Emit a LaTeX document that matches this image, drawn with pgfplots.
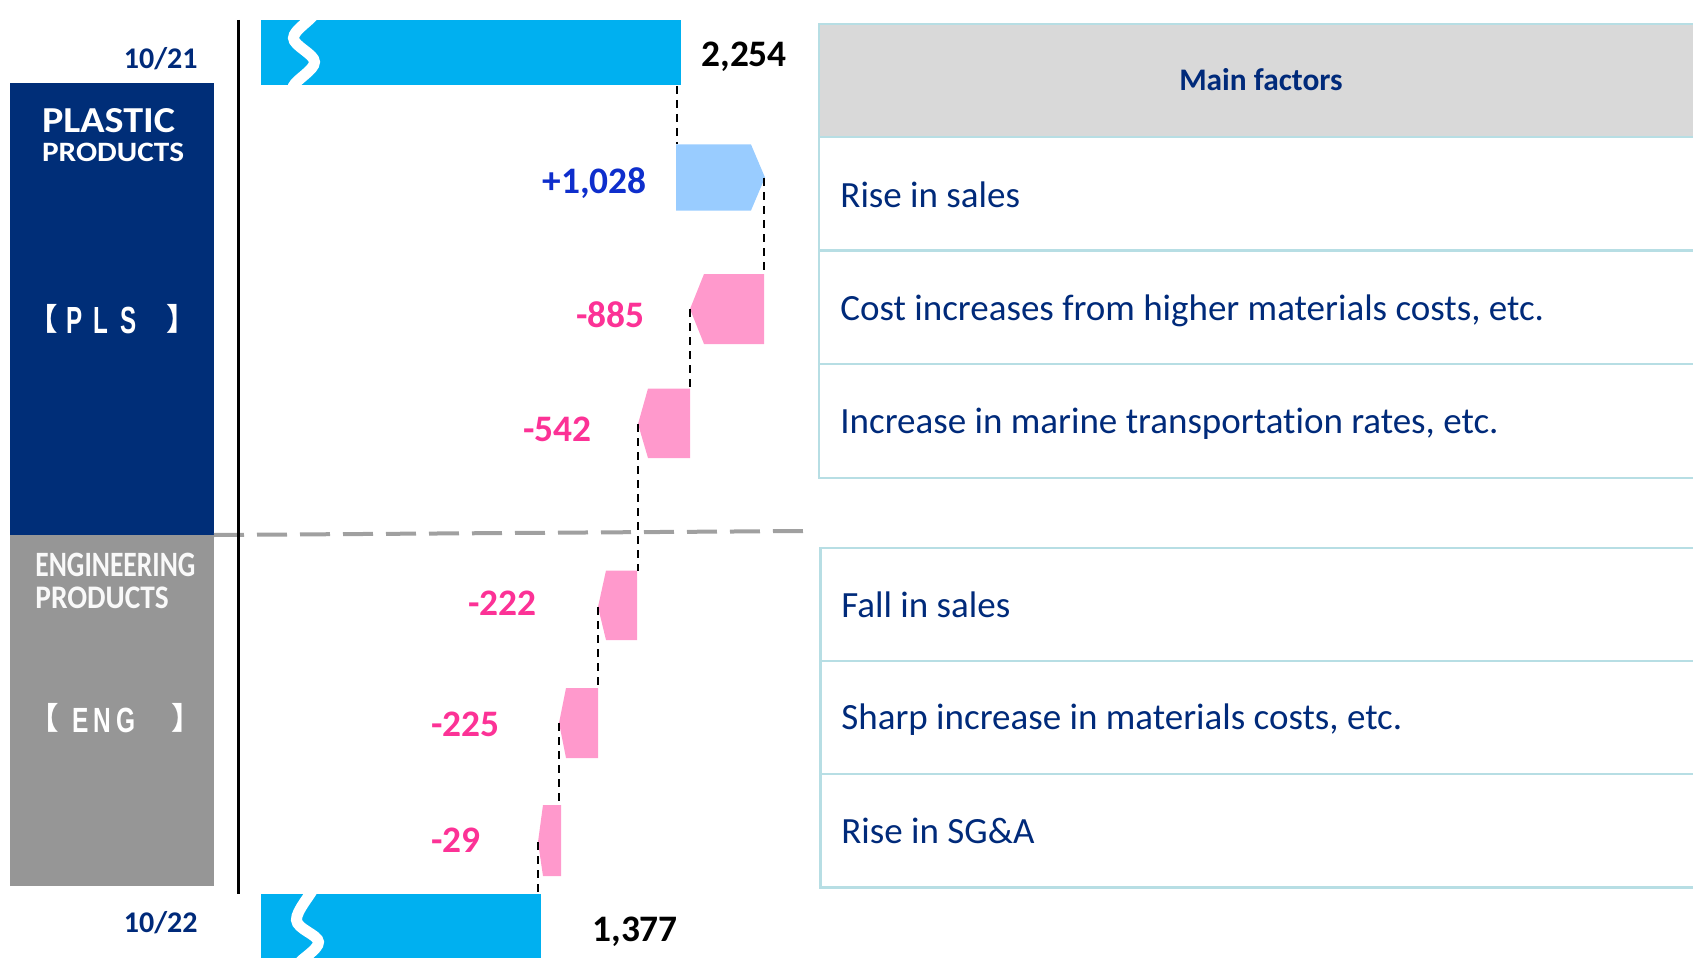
\documentclass[border=0pt]{standalone}
\usepackage{pgfplots}
\pgfplotsset{compat=1.18}
\usepackage{graphicx}
\usepackage{fontspec}
\setmainfont{Carlito}[Ligatures=NoCommon]
\newfontfamily\cjk[RawFeature=+palt]{Noto Sans CJK JP}
\newfontfamily\arialf{Liberation Sans}
\definecolor{navyp}{RGB}{0,46,120}
\definecolor{navyt}{RGB}{0,42,122}
\definecolor{cyanb}{RGB}{0,176,240}
\definecolor{lblue}{RGB}{153,204,255}
\definecolor{pinkb}{RGB}{255,153,204}
\definecolor{pinkt}{RGB}{252,50,150}
\definecolor{bluet}{RGB}{14,46,204}
\definecolor{grayp}{RGB}{150,150,150}
\definecolor{sepg}{RGB}{160,160,160}
\definecolor{tborder}{RGB}{183,222,228}
\definecolor{thead}{RGB}{217,217,217}
\newcommand\brk[1]{\raisebox{\depth}{\resizebox*{!}{14.5pt}{\cjk\bfseries #1}}}
\newcommand\sq[2]{\scalebox{#1}[1]{#2}}
\begin{document}
\begin{tikzpicture}
\begin{axis}[name=ax, at={(0,0)}, anchor=south west, scale only axis,
  width=846.5pt, height=487pt, xmin=0, xmax=1693, ymin=0, ymax=974,
  y dir=reverse, axis lines=none, clip=false, no markers]
% ---- left segment panels
\fill[navyp] (10,83) rectangle (214,535);
\fill[grayp] (10,535) rectangle (214,886);
\node[anchor=base west, inner sep=0, text=white] at (41.7,132.3) {\resizebox{66.5pt}{12pt}{\bfseries PLASTIC}};
\node[anchor=base west, inner sep=0, text=white] at (41.7,161.7) {\resizebox{71pt}{9.2pt}{\bfseries PRODUCTS}};
\node[anchor=base west, inner sep=0, text=white, font=\arialf\bfseries\fontsize{18.9pt}{20pt}\selectfont] at (40,333)
  {\kern4.65pt\makebox[0pt]{\brk{【}}\kern12.3pt\makebox[0pt]{\sq{0.64}{P}}\kern13.1pt\makebox[0pt]{\sq{0.64}{L}}\kern13.9pt\makebox[0pt]{\sq{0.64}{S}}\kern23.45pt\makebox[0pt]{\brk{】}}};
\node[anchor=base west, inner sep=0, text=white!95!gray] at (35,576.7) {\resizebox{80pt}{11.7pt}{\bfseries ENGINEERING}};
\node[anchor=base west, inner sep=0, text=white!95!gray] at (35,608.3) {\resizebox{66.7pt}{10.8pt}{\bfseries PRODUCTS}};
\node[anchor=base west, inner sep=0, text=white, font=\arialf\bfseries\fontsize{17.5pt}{19pt}\selectfont] at (40,732.5)
  {\kern5.35pt\makebox[0pt]{\brk{【}}\kern14.9pt\makebox[0pt]{\sq{0.7}{E}}\kern10.6pt\makebox[0pt]{\sq{0.7}{N}}\kern12.2pt\makebox[0pt]{\sq{0.7}{G}}\kern26.7pt\makebox[0pt]{\brk{】}}};
% ---- separator and axis line
\draw[sepg, line width=2pt, dash pattern=on 15pt off 6.5pt] (214,535) -- (808,531);
\draw[black, line width=1.5pt] (238,20) -- (238,894);
% ---- waterfall bars (display positions)
% 10/21: 2,254
\addplot[fill=cyanb, draw=none] coordinates {(261,20.5) (681,20.5) (681,85.5) (261,85.5)} --cycle;
% +1,028
\addplot[fill=lblue, draw=none] coordinates {(676,144.5) (751,144.5) (765,177.5) (751,210.5) (676,210.5)} --cycle;
% -885
\addplot[fill=pinkb, draw=none] coordinates {(764,274) (704,274) (690,309) (704,344) (764,344)} --cycle;
% -542
\addplot[fill=pinkb, draw=none] coordinates {(690,388.5) (648,388.5) (638,424) (648,458) (690,458)} --cycle;
% -222
\addplot[fill=pinkb, draw=none] coordinates {(637,570.5) (606,570.5) (598,607) (606,640) (637,640)} --cycle;
% -225
\addplot[fill=pinkb, draw=none] coordinates {(598,688) (566,688) (559,723) (566,758) (598,758)} --cycle;
% -29
\addplot[fill=pinkb, draw=none] coordinates {(561,805) (543,805) (538,842) (543,876) (561,876)} --cycle;
% 10/22: 1,377
\addplot[fill=cyanb, draw=none] coordinates {(261,894) (541,894) (541,958) (261,958)} --cycle;
% ---- connectors
\addplot[black, line width=1pt, dash pattern=on 4pt off 3pt] coordinates {(677,86) (677,144.5)};
\addplot[black, line width=1pt, dash pattern=on 4pt off 3pt] coordinates {(764,178) (764,274)};
\addplot[black, line width=1pt, dash pattern=on 4pt off 3pt] coordinates {(690,309) (690,388.5)};
\addplot[black, line width=1pt, dash pattern=on 4pt off 3pt] coordinates {(638,424) (638,570.5)};
\addplot[black, line width=1pt, dash pattern=on 4pt off 3pt] coordinates {(598,607) (598,688)};
\addplot[black, line width=1pt, dash pattern=on 4pt off 3pt] coordinates {(559,723) (559,805)};
\addplot[black, line width=1pt, dash pattern=on 4pt off 3pt] coordinates {(538,842) (538,894)};
% ---- axis-break waves
\addplot[white, line width=5.5pt, smooth, tension=0.6] coordinates {(307,3) (314,14) (293.5,38) (314.5,62) (293.5,86) (300,99)};
\addplot[white, line width=5.5pt, smooth, tension=0.6] coordinates {(310,876) (314.5,886) (296.5,920) (318.5,942) (298.5,964) (302,973)};
% ---- value labels
\node[anchor=base east, inner sep=0, text=navyt, font=\bfseries\fontsize{15pt}{18pt}\selectfont] at (198,69) {10/21};
\node[anchor=base east, inner sep=0, text=navyt, font=\bfseries\fontsize{15pt}{18pt}\selectfont] at (198,932) {10/22};
\node[anchor=base west, inner sep=0, text=black, font=\bfseries\fontsize{18.7pt}{22pt}\selectfont] at (701,67) {2,254};
\node[anchor=base west, inner sep=0, text=black, font=\bfseries\fontsize{18.7pt}{22pt}\selectfont] at (592,941) {1,377};
\node[anchor=base east, inner sep=0, text=bluet, font=\bfseries\fontsize{18.7pt}{22pt}\selectfont] at (647,193) {+1,028};
\node[anchor=base east, inner sep=0, text=pinkt, font=\bfseries\fontsize{18.7pt}{22pt}\selectfont] at (645,327) {-885};
\node[anchor=base east, inner sep=0, text=pinkt, font=\bfseries\fontsize{18.7pt}{22pt}\selectfont] at (592,441) {-542};
\node[anchor=base east, inner sep=0, text=pinkt, font=\bfseries\fontsize{18.7pt}{22pt}\selectfont] at (537,615) {-222};
\node[anchor=base east, inner sep=0, text=pinkt, font=\bfseries\fontsize{18.7pt}{22pt}\selectfont] at (500,736) {-225};
\node[anchor=base east, inner sep=0, text=pinkt, font=\bfseries\fontsize{18.7pt}{22pt}\selectfont] at (481,852.5) {-29};
% ---- factors table (PLS)
\fill[thead] (819,24) rectangle (1700,137);
\draw[tborder, line width=1.1pt] (1700,24) -- (819,24) -- (819,478) -- (1700,478);
\draw[tborder, line width=1.1pt] (819,137) -- (1700,137);
\draw[tborder, line width=1.1pt] (819,250.5) -- (1700,250.5);
\draw[tborder, line width=1.1pt] (819,364) -- (1700,364);
\node[anchor=base, inner sep=0, text=navyt, font=\bfseries\fontsize{15.7pt}{18pt}\selectfont] at (1261,91) {Main factors};
\node[anchor=base west, inner sep=0, text=navyt, font=\fontsize{18.5pt}{22pt}\selectfont] at (840,207) {Rise in sales};
\node[anchor=base west, inner sep=0, text=navyt, font=\fontsize{18.5pt}{22pt}\selectfont] at (840,320) {Cost increases from higher materials costs, etc.};
\node[anchor=base west, inner sep=0, text=navyt, font=\fontsize{18.5pt}{22pt}\selectfont] at (840,433) {Increase in marine transportation rates, etc.};
% ---- factors table (ENG)
\draw[tborder, line width=1.1pt] (1700,548) -- (820.5,548) -- (820.5,887.5) -- (1700,887.5);
\draw[tborder, line width=1.1pt] (820.5,661) -- (1700,661);
\draw[tborder, line width=1.1pt] (820.5,774) -- (1700,774);
\node[anchor=base west, inner sep=0, text=navyt, font=\fontsize{18.5pt}{22pt}\selectfont] at (841,617) {Fall in sales};
\node[anchor=base west, inner sep=0, text=navyt, font=\fontsize{18.5pt}{22pt}\selectfont] at (841,729.5) {Sharp increase in materials costs, etc.};
\node[anchor=base west, inner sep=0, text=navyt, font=\fontsize{18.5pt}{22pt}\selectfont] at (841,843) {Rise in SG\&A};
\end{axis}
\pgfresetboundingbox
\path[use as bounding box] (ax.south west) rectangle (ax.north east);
\end{tikzpicture}
\end{document}
